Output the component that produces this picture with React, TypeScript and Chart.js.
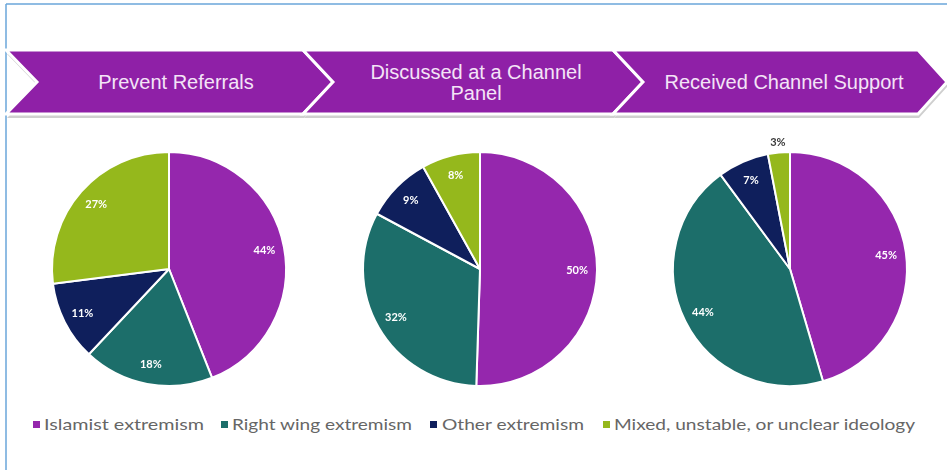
import React, { useEffect, useRef } from 'react';
import { Chart, registerables } from 'chart.js';

Chart.register(...registerables);

// ---- data ----
const categories = [
  'Islamist extremism',
  'Right wing extremism',
  'Other extremism',
  'Mixed, unstable, or unclear ideology',
];
const stageTitles: string[][] = [
  ['Prevent Referrals'],
  ['Discussed at a Channel', 'Panel'],
  ['Received Channel Support'],
];
const preventReferrals = [44, 18, 11, 27];
const channelPanel = [50, 32, 9, 8];
const channelSupport = [45, 44, 7, 3];
const stageSeries = [preventReferrals, channelPanel, channelSupport];

// ---- styles ----
const sliceColors = ['#9527AD', '#1C6E6A', '#0F1F5C', '#95B81C'];
const bannerColor = '#8F20A7';
const pieCenters = [168.5, 480, 789.5];
const pieCenterY = 269;
const pieRadius = 117;
const canvasSize = 300;

const legendSquares = [33, 221, 430, 603];
const legendTextX = [44, 232, 442, 614];
const legendTextW = [160, 180, 142, 301];

const pctLabelPlugin = {
  id: 'pctLabels',
  afterDatasetsDraw(chart: any) {
    const ctx = chart.ctx;
    const meta = chart.getDatasetMeta(0);
    const data = chart.data.datasets[0].data as number[];
    ctx.save();
    ctx.font = 'bold 11px Lato, "DejaVu Sans", sans-serif';
    ctx.textAlign = 'center';
    ctx.textBaseline = 'middle';
    meta.data.forEach((arc: any, i: number) => {
      const p = arc.getProps(['x', 'y', 'startAngle', 'endAngle', 'outerRadius'], true);
      const mid = (p.startAngle + p.endAngle) / 2;
      const v = data[i];
      const outside = v < 5;
      const r = outside ? p.outerRadius * 1.09 : p.outerRadius * 0.83;
      ctx.fillStyle = outside ? '#3a3a3a' : '#ffffff';
      ctx.fillText(v + '%', p.x + Math.cos(mid) * r, p.y + Math.sin(mid) * r);
    });
    ctx.restore();
  },
};

function PieCanvas({ values, cx }: { values: number[]; cx: number }) {
  const ref = useRef<HTMLCanvasElement | null>(null);
  useEffect(() => {
    if (!ref.current) return;
    const chart = new Chart(ref.current, {
      type: 'pie',
      data: {
        labels: categories,
        datasets: [
          {
            data: values,
            backgroundColor: sliceColors,
            borderColor: '#ffffff',
            borderWidth: 2,
          },
        ],
      },
      options: {
        responsive: false,
        maintainAspectRatio: false,
        animation: false,
        radius: pieRadius,
        layout: { padding: 0 },
        plugins: {
          legend: { display: false },
          tooltip: { enabled: false },
        },
      } as any,
      plugins: [pctLabelPlugin],
    });
    return () => chart.destroy();
  }, [values]);
  return (
    <canvas
      ref={ref}
      width={canvasSize}
      height={canvasSize}
      style={{
        position: 'absolute',
        left: cx - canvasSize / 2,
        top: pieCenterY - canvasSize / 2,
        width: canvasSize,
        height: canvasSize,
      }}
    />
  );
}

const chevrons = [
  '6,50 303,50 333,82 303,114 6,114 37,82',
  '303,50 613,50 643,82 613,114 303,114 333,82',
  '613,50 918,50 947,82 918,114 613,114 643,82',
];
const chevronTextX = [176, 476, 784];

export default function App() {
  useEffect(() => {
    document.body.style.margin = '0';
  }, []);
  return (
    <div
      style={{
        position: 'absolute',
        left: 0,
        top: 0,
        width: 947,
        height: 470,
        background: '#ffffff',
        overflow: 'hidden',
      }}
    >
      <svg
        width={947}
        height={470}
        style={{ position: 'absolute', left: 0, top: 0 }}
      >
        {/* frame lines */}
        <line x1={6} y1={4} x2={947} y2={4} stroke="#6AA6DA" strokeWidth={1.5} />
        <line x1={6} y1={4} x2={6} y2={470} stroke="#6AA6DA" strokeWidth={1.5} />
        {/* banner shadow */}
        {chevrons.map((pts, i) => (
          <polygon
            key={'s' + i}
            points={pts}
            fill="#cfcfcf"
            transform="translate(1,4)"
          />
        ))}
        {chevrons.map((pts, i) => (
          <polygon
            key={'c' + i}
            points={pts}
            fill={bannerColor}
            stroke="#ffffff"
            strokeWidth={3}
            strokeLinejoin="miter"
          />
        ))}
        {stageTitles.map((lines, i) => {
          const lh = 21;
          const base = 89 - ((lines.length - 1) * lh) / 2;
          return lines.map((t, j) => (
            <text
              key={'t' + i + j}
              x={chevronTextX[i]}
              y={base + j * lh}
              textAnchor="middle"
              fontFamily='"Liberation Sans", Arial, sans-serif'
              fontSize={20}
              fill="#F4E4F7"
            >
              {t}
            </text>
          ));
        })}
        {/* legend */}
        {categories.map((c, i) => (
          <g key={'l' + i}>
            <rect x={legendSquares[i]} y={421} width={7} height={7} fill={sliceColors[i]} />
            <text
              x={legendTextX[i]}
              y={430}
              fontFamily='Lato, "Noto Sans", sans-serif'
              fontSize={16}
              fill="#666666"
              textLength={legendTextW[i]}
              lengthAdjust="spacingAndGlyphs"
            >
              {c}
            </text>
          </g>
        ))}
      </svg>
      {stageSeries.map((vals, i) => (
        <PieCanvas key={i} values={vals} cx={pieCenters[i]} />
      ))}
    </div>
  );
}
